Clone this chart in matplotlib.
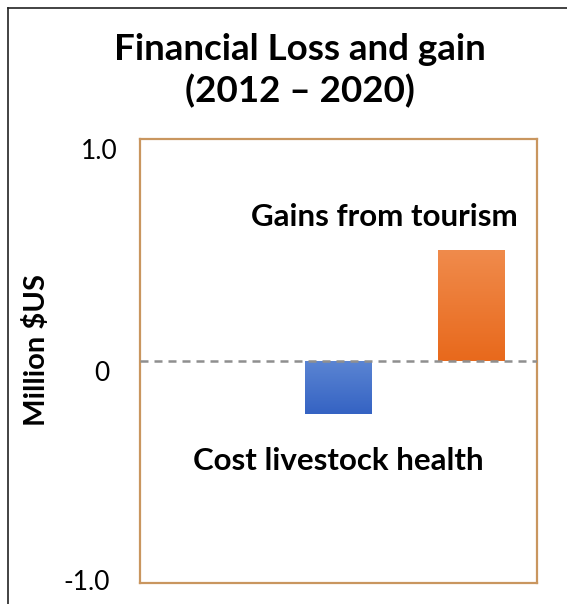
import numpy as np
import matplotlib
matplotlib.use("Agg")
import matplotlib.pyplot as plt
import matplotlib.transforms as mtransforms
from matplotlib.lines import Line2D
from matplotlib.colors import LinearSegmentedColormap

plt.rcParams['font.family'] = ['Lato', 'DejaVu Sans']

# 数据
positions = [1, 2]
values = [-0.24, 0.5]
labels = ["Cost livestock health", "Gains from tourism"]
label_xy = [(1.0, -0.49), (1.35, 0.61)]
grad_colors = [("#3563c3", "#5b85d3"), ("#e8691c", "#f08b4c")]
ytick_vals = [1.0, 0, -1.0]
ytick_text = ["1.0", "0", "-1.0"]

fig = plt.figure(figsize=(5.67, 6.04), dpi=100)
ax = fig.add_axes([0.2469, 0.0348, 0.7002, 0.7351])

# 柱子 + 渐变填充
bars = ax.bar(positions, values, width=0.5, color="none", zorder=2)
for bar, (c_low, c_high) in zip(bars, grad_colors):
    x0, y0 = bar.get_x(), bar.get_y()
    w, h = bar.get_width(), bar.get_height()
    ylo, yhi = min(y0, y0 + h), max(y0, y0 + h)
    cmap = LinearSegmentedColormap.from_list("g", [c_low, c_high])
    grad = np.linspace(0, 1, 100).reshape(-1, 1)
    im = ax.imshow(grad, cmap=cmap, origin="lower", aspect="auto",
                   extent=(x0, x0 + w, ylo, yhi), zorder=2)
    im.set_clip_path(bar)

# 零线
ax.axhline(0, color="#8f8f8f", linestyle=(0, (3.2, 2.4)), linewidth=1.8, zorder=3)

ax.set_xlim(-0.5, 2.5)
ax.set_ylim(-1.0, 1.0)
ax.set_xticks([])
ax.set_yticks(ytick_vals)
ax.set_yticklabels(ytick_text, fontsize=19)
ax.tick_params(axis="y", length=0, pad=22)
for lab, va in zip(ax.get_yticklabels(), ["top", "top", "center"]):
    lab.set_va(va)
# "1.0" 稍微往右挪一点
top_lab = ax.get_yticklabels()[0]
top_lab.set_transform(top_lab.get_transform() +
                      mtransforms.ScaledTranslation(8 / 100, 0, fig.dpi_scale_trans))

for sp in ax.spines.values():
    sp.set_color("#c9965f")
    sp.set_linewidth(1.6)

# 标注
for (tx, ty), text in zip(label_xy, labels):
    ax.text(tx, ty, text, ha="center", va="baseline", fontsize=22.5, fontweight="bold")

# 纵轴标题
fig.text(37 / 567, 1 - 350 / 604, "Million $US", rotation=90, ha="center", va="center",
         fontsize=21, fontweight="bold")

# 标题
fig.text(0.529, 1 - 60 / 604, "Financial Loss and gain", ha="center", va="baseline",
         fontsize=26.5, fontweight="bold")
fig.text(0.529, 1 - 102 / 604, "(2012 \u2013 2020)", ha="center", va="baseline",
         fontsize=26.5, fontweight="bold")

# 外框
fig.add_artist(Line2D([8 / 567, 1], [1 - 8 / 604, 1 - 8 / 604], color="#222222", linewidth=1.2))
fig.add_artist(Line2D([8 / 567, 8 / 567], [0, 1 - 8 / 604], color="#222222", linewidth=1.2))

fig.savefig("out.png", dpi=100)
